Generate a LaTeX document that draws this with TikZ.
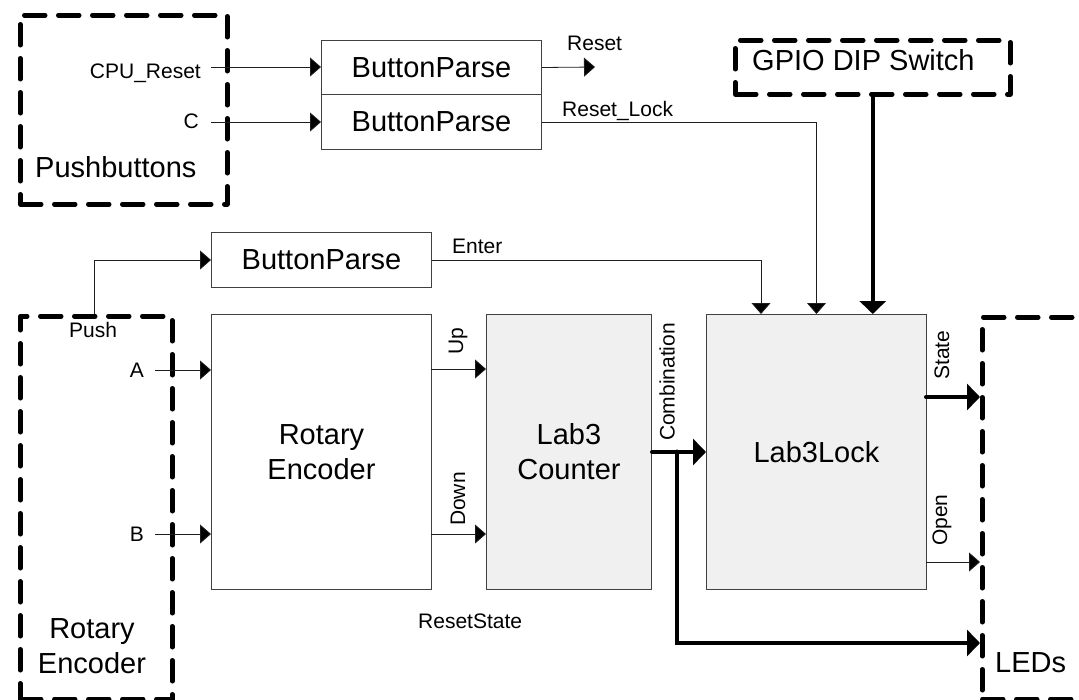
\documentclass[tikz,border=0pt]{standalone}
\usepackage{fontspec}
\setmainfont{Liberation Sans}
\usetikzlibrary{arrows.meta}
\definecolor{blockgray}{RGB}{240,240,240}
\definecolor{wire}{RGB}{30,30,30}
\begin{document}
\begin{tikzpicture}[x=1pt,y=-1pt,
  big/.style={font=\fontsize{29}{35}\selectfont},
  small/.style={font=\fontsize{21}{25}\selectfont, inner sep=0pt},
  blk/.style={draw=black!75, line width=1pt, inner sep=0pt, anchor=north west, big, align=center},
  grayblk/.style={blk, fill=blockgray},
  dbox/.style={draw=black, line width=4.5pt, dash pattern=on 21pt off 13pt, line cap=round, line join=round, inner sep=0pt, anchor=north west},
  wireto/.style={draw=wire, line width=0.8pt, -{Triangle[length=11pt,width=19pt,fill=black]}},
  buswire/.style={draw=black, line width=4pt, line cap=round, -{Triangle[length=13pt,width=26pt]}},
]
\useasboundingbox (0,0) rectangle (1079,699);
\clip (0,0) rectangle (1079,699);

% dashed boundary boxes
\node[dbox, minimum width=207pt, minimum height=189pt] (pbx) at (18,13) {};
\node[dbox, minimum width=275pt, minimum height=54pt] (gpx) at (733,38) {};
\node[dbox, minimum width=152pt, minimum height=383pt] (rex) at (18,314) {};
\node[dbox, minimum width=160pt, minimum height=382pt] (ledx) at (980,315) {};

% dashed box titles
\node[big, inner sep=0pt, anchor=base west] (pbt) at (35,177) {Pushbuttons};
\node[big, inner sep=0pt, anchor=base west] (gpt) at (752,70) {GPIO DIP Switch};
\node[big, inner sep=0pt, align=center, anchor=base] (ret) at (92,673) {Rotary\\Encoder};
\node[big, inner sep=0pt, anchor=base west] (ledt) at (995,672) {LEDs};

% blocks
\node[blk, minimum width=220pt, minimum height=54pt] (bp1) at (321,40) {ButtonParse};
\node[blk, minimum width=220pt, minimum height=55pt] (bp2) at (321,94) {ButtonParse};
\node[blk, minimum width=220pt, minimum height=55pt] (bp3) at (211,232) {ButtonParse};
\node[blk, minimum width=220pt, minimum height=275pt] (re) at (211,314) {Rotary\\Encoder};
\node[grayblk, minimum width=165pt, minimum height=275pt] (cnt) at (486,314) {Lab3\\Counter};
\node[grayblk, minimum width=220pt, minimum height=275pt] (lock) at (706,314) {Lab3Lock};

% signal labels
\node[small, anchor=base east] (cpul) at (201,78) {CPU\_Reset};
\node[small, anchor=base east] (cl) at (199,128) {C};
\node[small, anchor=base west] (rstl) at (567,50) {Reset};
\node[small, anchor=base west] (rll) at (562,116) {Reset\_Lock};
\node[small, anchor=base west] (entl) at (452,253) {Enter};
\node[small, anchor=base west] (pushl) at (69,337) {Push};
\node[small, anchor=base east] (al) at (144,377) {A};
\node[small, anchor=base east] (bl) at (144,541) {B};
\node[small, anchor=base west] (rsl) at (418,628) {ResetState};
\node[small, rotate=90] (upl) at (458,341) {Up};
\node[small, rotate=90] (downl) at (458,499) {Down};
\node[small, rotate=90] (combl) at (667,382) {Combination};
\node[small, rotate=90] (statel) at (942,355) {State};
\node[small, rotate=90] (openl) at (942,520) {Open};

% connector end points
\coordinate (cpuS) at (211,67);
\coordinate (cS) at (211,122);
\coordinate (rstT) at (595,67);
\coordinate (entT) at (761,314);
\coordinate (pushS) at (94,314);
\coordinate (aS) at (155,370);
\coordinate (bS) at (155,534);
\coordinate (upS) at (431,369);
\coordinate (downS) at (431,534);
\coordinate (brS) at (677,451.5);
\coordinate (ledB) at (980,643);
\coordinate (stS) at (926,397);
\coordinate (opS) at (926,562);

% thin connectors
\draw[wireto] (cpuS) -- (bp1.west |- cpuS);
\draw[wireto] (cS) -- (bp2.west |- cS);
\draw[wireto] (bp1.east) -- (rstT);
\draw[wireto] (bp2.east) -| (lock.north);
\draw[wireto] (bp3.east) -| (entT);
\draw[wireto] (pushS) |- (bp3.west);
\draw[wireto] (aS) -- (re.west |- aS);
\draw[wireto] (bS) -- (re.west |- bS);
\draw[wireto] (upS) -- (cnt.west |- upS);
\draw[wireto] (downS) -- (cnt.west |- downS);
\draw[wireto] (opS) -- (ledx.west |- opS);

% buses
\draw[buswire] (gpx.south) -- (gpx.south |- lock.north);
\draw[buswire] (cnt.east) -- (lock.west);
\draw[buswire] (brS) |- (ledB);
\draw[buswire] (stS) -- (ledx.west |- stS);
\end{tikzpicture}
\end{document}
